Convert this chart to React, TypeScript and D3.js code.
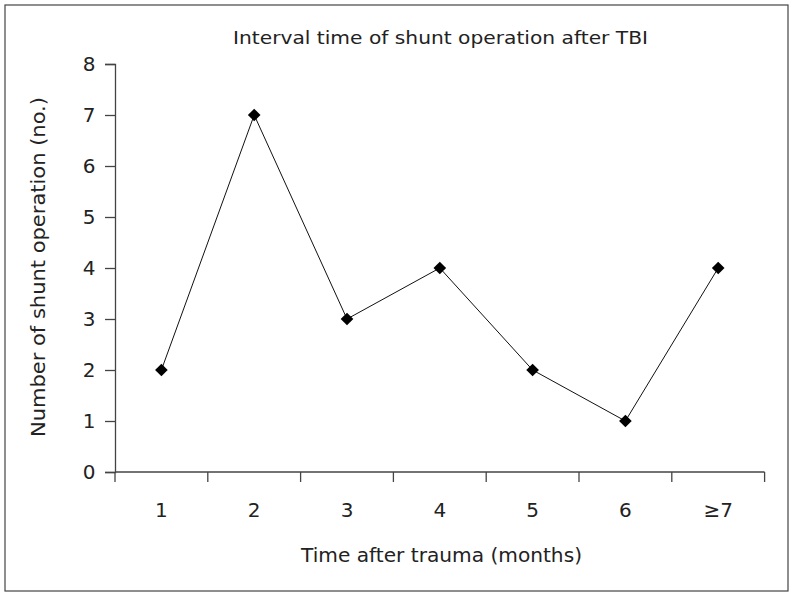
import React, { useEffect, useRef } from "react";
import * as d3 from "d3";

const categories = ["1", "2", "3", "4", "5", "6", "≥7"];
const values = [2, 7, 3, 4, 2, 1, 4];
const yTicks = [0, 1, 2, 3, 4, 5, 6, 7, 8];

const W = 794;
const H = 597;

export default function App() {
  const ref = useRef<SVGSVGElement>(null);
  useEffect(() => {
    const svg = d3.select(ref.current);
    svg.selectAll("*").remove();
    const font = "'DejaVu Sans', Lato, sans-serif";
    const left = 115, right = 764.6, top = 64, bottom = 472;
    const x = d3.scaleBand<string>().domain(categories).range([left, right]).padding(0);
    const y = d3.scaleLinear().domain([0, 8]).range([bottom, top]);

    svg.append("rect").attr("x", 5).attr("y", 5).attr("width", 783).attr("height", 586)
      .attr("fill", "white").attr("stroke", "#444").attr("stroke-width", 1.2);

    const axisColor = "#444";
    // y axis
    const ya = svg.append("g").attr("transform", `translate(${left},0)`)
      .call(d3.axisLeft(y).tickValues(yTicks).tickSize(10).tickPadding(23).tickFormat(d3.format("d")));
    ya.select(".domain").attr("stroke", axisColor).attr("stroke-width", 1.3);
    ya.selectAll(".tick line").attr("stroke", axisColor).attr("stroke-width", 1.3);
    ya.selectAll(".tick text").attr("font-family", font).attr("font-size", 20).attr("fill", "#222")
      .attr("text-anchor", "middle").attr("dx", 7);

    // x axis
    const xa = svg.append("g").attr("transform", `translate(0,${bottom})`);
    xa.append("line").attr("x1", left).attr("x2", right).attr("y1", 0).attr("y2", 0)
      .attr("stroke", axisColor).attr("stroke-width", 1.3);
    const edges = categories.map((c) => x(c)!).concat([right]);
    xa.selectAll("line.tk").data(edges).enter().append("line").attr("class", "tk")
      .attr("x1", (d) => d).attr("x2", (d) => d).attr("y1", 0).attr("y2", 10)
      .attr("stroke", axisColor).attr("stroke-width", 1.3);
    xa.selectAll("text").data(categories).enter().append("text")
      .attr("x", (d) => x(d)! + x.bandwidth() / 2).attr("y", 45)
      .attr("text-anchor", "middle").attr("font-family", font).attr("font-size", 20).attr("fill", "#222")
      .text((d) => d);

    // line
    const line = d3.line<number>().x((_, i) => x(categories[i])! + x.bandwidth() / 2).y((d) => y(d));
    svg.append("path").datum(values).attr("d", line).attr("fill", "none").attr("stroke", "#111").attr("stroke-width", 1);
    svg.selectAll("path.pt").data(values).enter().append("path").attr("class", "pt")
      .attr("d", d3.symbol(d3.symbolSquare, 80)())
      .attr("transform", (d, i) => `translate(${x(categories[i])! + x.bandwidth() / 2},${y(d)}) rotate(45)`)
      .attr("fill", "#000");

    // title & labels
    svg.append("text").attr("x", 440.5).attr("y", 44).attr("text-anchor", "middle")
      .attr("font-family", font).attr("font-size", 18).attr("fill", "#222")
      .attr("textLength", 415).attr("lengthAdjust", "spacingAndGlyphs")
      .text("Interval time of shunt operation after TBI");
    svg.append("text").attr("x", 441.5).attr("y", 562).attr("text-anchor", "middle")
      .attr("font-family", font).attr("font-size", 19).attr("fill", "#222")
      .attr("textLength", 281).attr("lengthAdjust", "spacingAndGlyphs")
      .text("Time after trauma (months)");
    svg.append("text").attr("transform", `translate(45,267) rotate(-90)`).attr("text-anchor", "middle")
      .attr("font-family", font).attr("font-size", 19).attr("fill", "#222")
      .attr("textLength", 340).attr("lengthAdjust", "spacingAndGlyphs")
      .text("Number of shunt operation (no.)");
  }, []);
  return (
    <svg ref={ref} width={W} height={H} style={{ position: "absolute", left: 0, top: 0, display: "block" }} />
  );
}
